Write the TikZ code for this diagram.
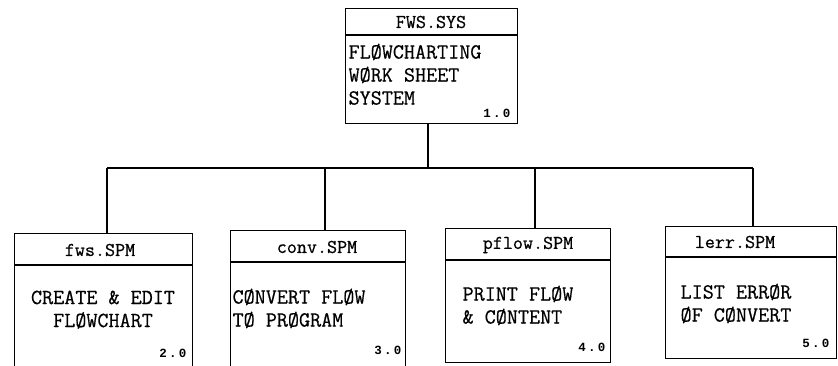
\documentclass[tikz,border=0pt]{standalone}
\usepackage{fontspec}
\newfontfamily\twfont[FakeBold=0.6]{Latin Modern Mono}
\newfontfamily\numfont[LetterSpace=18]{Liberation Mono}
\begin{document}
\begin{tikzpicture}[x=1pt,y=-1pt, line width=1.2pt,
  box/.style={draw, rectangle, anchor=north west, inner sep=0pt},
  hd/.style={font=\twfont\fontsize{19.5}{19.5}\selectfont, inner sep=0pt},
  bd/.style={font=\twfont\fontsize{21.5}{23}\selectfont, align=left, anchor=north west, inner sep=0pt},
  bdc/.style={font=\twfont\fontsize{21.5}{23}\selectfont, align=center, anchor=north, inner sep=0pt},
  num/.style={font=\numfont\bfseries\fontsize{12.5}{12.5}\selectfont, anchor=base east, inner sep=0pt},
  wire/.style={line width=1.3pt}]
\useasboundingbox (0,0) rectangle (838,366);

% top box
\node[box, minimum width=172pt, minimum height=115pt] (top) at (345,8) {};
\draw ([yshift=-27pt]top.north west) -- ([yshift=-27pt]top.north east);
\node[hd] (topH) at (431,22) {FWS.SYS};
\node[bd] (topB) at (348,43) {FLØWCHARTING\\WØRK SHEET\\SYSTEM};
\node[num] (topN) at (511,118) {1.0};

% fws box
\node[box, minimum width=178pt, minimum height=145pt] (b1) at (14,233) {};
\draw ([yshift=-32pt]b1.north west) -- ([yshift=-32pt]b1.north east);
\node[hd] (b1H) at (100,250) {fws.SPM};
\node[bdc] (b1B) at (103,290) {CREATE \& EDIT\\FLØWCHART};
\node[num] (b1N) at (187,357) {2.0};

% conv box
\node[box, minimum width=175pt, minimum height=136pt] (b2) at (230,230) {};
\draw ([yshift=-32pt]b2.north west) -- ([yshift=-32pt]b2.north east);
\node[hd] (b2H) at (317,247) {conv.SPM};
\node[bd] (b2B) at (232,288) {CØNVERT FLØW\\TØ PRØGRAM};
\node[num] (b2N) at (402,354) {3.0};

% pflow box
\node[box, minimum width=165pt, minimum height=134pt] (b3) at (445,228) {};
\draw ([yshift=-32pt]b3.north west) -- ([yshift=-32pt]b3.north east);
\node[hd] (b3H) at (528,245) {pflow.SPM};
\node[bd] (b3B) at (462,285) {PRINT FLØW\\\& CØNTENT};
\node[num] (b3N) at (606,351) {4.0};

% lerr box
\node[box, minimum width=171pt, minimum height=132pt] (b4) at (665,226) {};
\draw ([yshift=-31pt]b4.north west) -- ([yshift=-31pt]b4.north east);
\node[hd] (b4H) at (735,242) {lerr.SPM};
\node[bd] (b4B) at (680,283) {LIST ERRØR\\ØF CØNVERT};
\node[num] (b4N) at (830,347) {5.0};

% connectors
\coordinate (bus0) at (428,168);
\coordinate (c1) at (107,168);
\coordinate (c2) at (325,168);
\coordinate (c3) at (535,168);
\coordinate (c4) at (753,168);
\draw[wire] (top.south -| bus0) -- (bus0);
\draw[wire] (c1) -- (c4);
\draw[wire] (c1) -- (c1 |- b1.north);
\draw[wire] (c2) -- (c2 |- b2.north);
\draw[wire] (c3) -- (c3 |- b3.north);
\draw[wire] (c4) -- (c4 |- b4.north);
\end{tikzpicture}
\end{document}
